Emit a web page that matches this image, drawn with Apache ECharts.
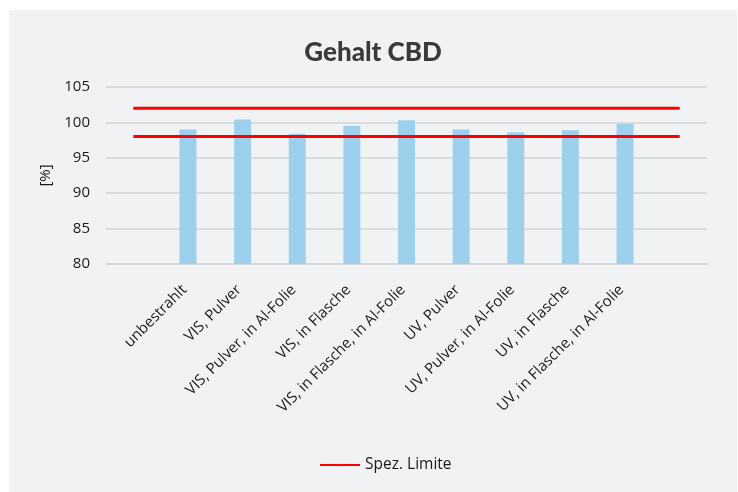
<!DOCTYPE html>
<html>
<head>
<meta charset="utf-8">
<script src="https://cdn.jsdelivr.net/npm/echarts@6/dist/echarts.min.js"></script>
<style>
  html, body { margin: 0; padding: 0; background: #ffffff; }
  .com-container {
    position: absolute;
    left: 9px;
    top: 10px;
    width: 728px;
    height: 482px;
    background: #f1f2f4;
  }
  .com-chart { width: 100%; height: 100%; }
</style>
</head>
<body>
<div class="com-container">
  <div class="com-chart" id="chart"></div>
</div>
<script>
// Kategorien (erste und letzte leer, damit die Grenzlinien überstehen)
const categories = ['', 'unbestrahlt', 'VIS, Pulver', 'VIS, Pulver, in Al-Folie', 'VIS, in Flasche',
  'VIS, in Flasche, in Al-Folie', 'UV, Pulver', 'UV, Pulver, in Al-Folie', 'UV, in Flasche',
  'UV, in Flasche, in Al-Folie', ''];
// Gehalt CBD [%]
const gehalt = ['-', 99.0, 100.4, 98.4, 99.5, 100.3, 99.0, 98.6, 98.9, 99.8, '-'];
// Spezifikationsgrenzen
const limitOben = [102, 102, 102, 102, 102, 102, 102, 102, 102, 102, 102];
const limitUnten = [98, 98, 98, 98, 98, 98, 98, 98, 98, 98, 98];
const yTicks = { min: 80, max: 105, interval: 5 };

const chartInstance = echarts.init(document.getElementById('chart'));
const textFont = '"Open Sans", sans-serif';
const option = {
  animation: false,
  title: {
    text: 'Gehalt CBD',
    left: 'center',
    top: 25,
    textStyle: {
      fontFamily: 'Lato, sans-serif',
      fontWeight: 900,
      fontSize: 26,
      color: '#3a3a3a'
    }
  },
  legend: {
    data: ['Spez. Limite'],
    bottom: 14,
    left: 305,
    itemWidth: 40,
    itemHeight: 3,
    itemGap: 8,
    textStyle: { fontFamily: textFont, fontSize: 15.5, color: '#1a1a1a' }
  },
  grid: { left: 97, right: 30, top: 77, bottom: 228 },
  xAxis: {
    type: 'category',
    data: categories,
    axisTick: { show: false },
    axisLine: { lineStyle: { color: '#d2d3d5', width: 1.5 } },
    axisLabel: {
      interval: 0,
      rotate: 45,
      margin: 27,
      verticalAlign: 'bottom',
      lineHeight: 10,
      fontFamily: textFont,
      fontSize: 15,
      color: '#1a1a1a'
    }
  },
  yAxis: {
    type: 'value',
    min: yTicks.min,
    max: yTicks.max,
    interval: yTicks.interval,
    name: '[%]',
    nameLocation: 'middle',
    nameGap: 50,
    nameTextStyle: { fontFamily: textFont, fontSize: 15, color: '#1a1a1a' },
    axisLine: { show: false },
    axisTick: { show: false },
    splitLine: { lineStyle: { color: '#d2d3d5', width: 1.5 } },
    axisLabel: { margin: 16, fontFamily: textFont, fontSize: 15, color: '#1a1a1a' }
  },
  series: [
    {
      name: 'Gehalt',
      type: 'bar',
      data: gehalt,
      barWidth: '31%',
      itemStyle: { color: '#9cd0ec' }
    },
    {
      name: 'Spez. Limite',
      type: 'line',
      data: limitOben,
      symbol: 'none',
      lineStyle: { color: '#ff0000', width: 3 },
      itemStyle: { color: '#ff0000' }
    },
    {
      name: 'Spez. Limite',
      type: 'line',
      data: limitUnten,
      symbol: 'none',
      lineStyle: { color: '#ff0000', width: 3 },
      itemStyle: { color: '#ff0000' }
    }
  ]
};
chartInstance.setOption(option);
</script>
</body>
</html>
